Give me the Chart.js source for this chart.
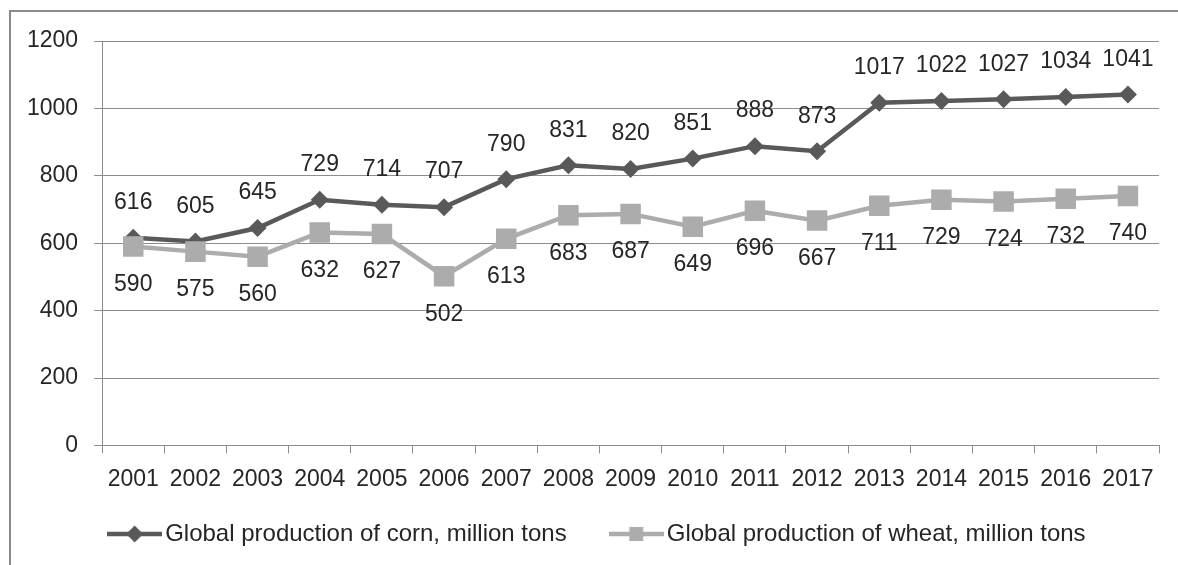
<!DOCTYPE html>
<html>
<head>
<meta charset="utf-8">
<script src="https://cdn.jsdelivr.net/npm/chart.js@4.4.1/dist/chart.umd.min.js"></script>
<style>
    html, body { margin: 0; padding: 0; background: #fff; overflow: hidden; }
    #wrap { position: relative; width: 1178px; height: 565px; }
    #frame {
        position: absolute; left: 9px; top: 10px; width: 1300px; height: 700px;
        border-left: 2px solid #8a8a8a; border-top: 2px solid #8a8a8a;
        pointer-events: none;
    }
</style>
</head>
<body>
<div id="wrap">
    <canvas id="productionChart" width="1178" height="565"></canvas>
    <div id="frame"></div>
</div>
<script>
const years = ['2001', '2002', '2003', '2004', '2005', '2006', '2007', '2008', '2009',
    '2010', '2011', '2012', '2013', '2014', '2015', '2016', '2017'];
const cornProduction = [616, 605, 645, 729, 714, 707, 790, 831, 820, 851, 888, 873, 1017, 1022, 1027, 1034, 1041];
const wheatProduction = [590, 575, 560, 632, 627, 502, 613, 683, 687, 649, 696, 667, 711, 729, 724, 732, 740];
const yTicks = [0, 200, 400, 600, 800, 1000, 1200];

const FONT_FAMILY = '"Liberation Sans", Arial, sans-serif';
const TEXT_COLOR = '#262626';
const GRID_COLOR = '#8c8c8c';
const CORN_COLOR = '#595959';
const WHEAT_COLOR = '#acacac';

// small line + marker sample used as the legend symbol
function legendMarker(shape, color) {
    const c = document.createElement('canvas');
    c.width = 55;
    c.height = 20;
    const g = c.getContext('2d');
    g.strokeStyle = color;
    g.fillStyle = color;
    g.lineWidth = 4.5;
    g.beginPath();
    g.moveTo(0, 10);
    g.lineTo(55, 10);
    g.stroke();
    g.beginPath();
    if (shape === 'diamond') {
        g.moveTo(27.5, 1.5);
        g.lineTo(36, 10);
        g.lineTo(27.5, 18.5);
        g.lineTo(19, 10);
        g.closePath();
    } else {
        g.rect(20.5, 3, 14, 14);
    }
    g.fill();
    return c;
}

const legendMarkers = [legendMarker('diamond', CORN_COLOR), legendMarker('square', WHEAT_COLOR)];

// value labels above/below every point
const pointValueLabels = {
    id: 'pointValueLabels',
    afterDatasetsDraw(chart) {
        const ctx = chart.ctx;
        ctx.save();
        ctx.font = `23px ${FONT_FAMILY}`;
        ctx.fillStyle = TEXT_COLOR;
        ctx.textAlign = 'center';
        ctx.textBaseline = 'middle';
        chart.data.datasets.forEach((ds, i) => {
            chart.getDatasetMeta(i).data.forEach((pt, j) => {
                ctx.fillText(String(ds.data[j]), pt.x, pt.y + ds.labelOffset);
            });
        });
        ctx.restore();
    }
};

// legend row under the axis: line sample, marker and series name
const lineLegend = {
    id: 'lineLegend',
    afterDraw(chart) {
        const ctx = chart.ctx;
        const cy = chart.height - 31;
        const itemGap = 42;
        let x = chart.chartArea.left + 5;
        ctx.save();
        ctx.font = `24px ${FONT_FAMILY}`;
        ctx.fillStyle = TEXT_COLOR;
        ctx.textAlign = 'left';
        ctx.textBaseline = 'middle';
        chart.data.datasets.forEach((ds, i) => {
            const marker = legendMarkers[i];
            ctx.drawImage(marker, x, cy - marker.height / 2);
            x += marker.width + 3;
            ctx.fillText(ds.label, x, cy);
            x += ctx.measureText(ds.label).width + itemGap;
        });
        ctx.restore();
    }
};

new Chart(document.getElementById('productionChart'), {
    type: 'line',
    data: {
        labels: years,
        datasets: [{
            label: 'Global production of corn, million tons',
            data: cornProduction,
            borderColor: CORN_COLOR,
            backgroundColor: CORN_COLOR,
            borderWidth: 4.5,
            pointStyle: 'rectRot',
            pointRadius: 9,
            pointBorderWidth: 0,
            tension: 0,
            order: 1,
            labelOffset: -35
        }, {
            label: 'Global production of wheat, million tons',
            data: wheatProduction,
            borderColor: WHEAT_COLOR,
            backgroundColor: WHEAT_COLOR,
            borderWidth: 4.5,
            pointStyle: 'rect',
            pointRadius: 14.5,
            pointBorderWidth: 0,
            tension: 0,
            order: 0,
            labelOffset: 38
        }]
    },
    options: {
        responsive: false,
        animation: false,
        events: [],
        layout: { padding: { left: 11, right: 19, top: 41, bottom: 60 } },
        scales: {
            x: {
                offset: true,
                grid: { offset: true, drawOnChartArea: false, drawTicks: true, tickLength: 8, color: GRID_COLOR },
                border: { color: GRID_COLOR },
                ticks: { color: TEXT_COLOR, font: { family: FONT_FAMILY, size: 23 }, padding: 12, maxRotation: 0, autoSkip: false }
            },
            y: {
                min: 0,
                max: 1200,
                afterBuildTicks(scale) { scale.ticks = yTicks.map(v => ({ value: v })); },
                grid: { color: GRID_COLOR, tickLength: 8 },
                border: { color: GRID_COLOR },
                ticks: {
                    color: TEXT_COLOR,
                    font: { family: FONT_FAMILY, size: 23 },
                    padding: 16,
                    callback: v => String(v)
                }
            }
        },
        plugins: {
            tooltip: { enabled: false },
            legend: { display: false }
        }
    },
    plugins: [pointValueLabels, lineLegend]
});
</script>
</body>
</html>
